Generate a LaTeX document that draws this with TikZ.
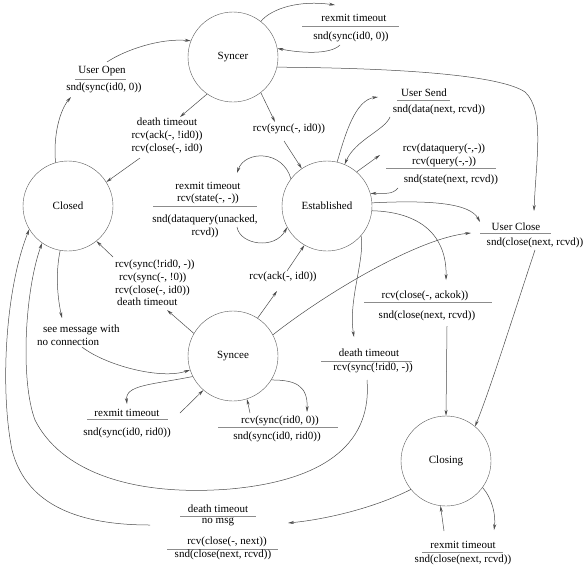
\documentclass[tikz,border=0pt]{standalone}
\usepackage{fontspec}
\setmainfont{Liberation Serif}
\newfontfamily\figfont{Liberation Serif}
\usetikzlibrary{arrows.meta}

\begin{document}
\begin{tikzpicture}[x=1pt, y=-1pt,
    state/.style={draw=black!65, circle, minimum size=90pt, inner sep=0pt, font=\figfont\fontsize{11}{12.8}\selectfont},
    lbl/.style={inner sep=1pt, font=\figfont\fontsize{11}{12.8}\selectfont},
    bar/.style={draw=black!45, line width=0.5pt},
    trans/.style={draw=black!70, line width=0.5pt, -{Stealth[length=6pt, width=3pt]}}]

    \useasboundingbox (0,0) rectangle (583,565);

% states
    \node[state] (syncer)      at (233,57)  {Syncer};
    \node[state] (closed)      at (68,206)  {Closed};
    \node[state] (established) at (327,206) {Established};
    \node[state] (syncee)      at (233,356) {Syncee};
    \node[state] (closing)     at (446,461) {Closing};

% labels round syncer
    \node[lbl] (syncerRex)    at (354,18) {rexmit timeout};
    \draw[bar] (302,26) -- (399,26);
    \node[lbl] (syncerRexSnd) at (351,37) {snd(sync(id0, 0))};
    \node[lbl] (userOpen)     at (102,71) {User Open};
    \draw[bar] (75,79) -- (126,79);
    \node[lbl] (userOpenSnd)  at (104,88) {snd(sync(id0, 0))};
    \node[lbl, align=center] (syncerDeath) at (167,136)
        {death timeout\\rcv(ack(-, !id0))\\rcv(close(-, id0)};
    \node[lbl] (rcvSync)      at (289,129) {rcv(sync(-, id0))};

% labels round established
    \node[lbl] (userSend)     at (424,93)  {User Send};
    \draw[bar] (397,100) -- (450,100);
    \node[lbl] (userSendSnd)  at (439,110) {snd(data(next, rcvd))};
    \node[lbl, align=center] (query) at (444,155)
        {rcv(dataquery(-,-))\\rcv(query(-,-))};
    \draw[bar] (386,168) -- (496,168);
    \node[lbl] (querySnd)     at (451,180) {snd(state(next, rcvd))};
    \node[lbl, align=center] (estRex) at (208,193)
        {rexmit timeout\\rcv(state(-, -))};
    \draw[bar] (153,206) -- (257,206);
    \node[lbl, align=center] (estRexSnd) at (205,226)
        {snd(dataquery(unacked,\\rcvd))};
    \node[lbl] (userClose)    at (516,227) {User Close};
    \draw[bar] (480,233) -- (551,233);
    \node[lbl] (userCloseSnd) at (535,243) {snd(close(next, rcvd))};
    \node[lbl] (ackok)        at (425,296) {rcv(close(-, ackok))};
    \draw[bar] (364,302) -- (492,302);
    \node[lbl] (ackokSnd)     at (427,316) {snd(close(next, rcvd))};
    \node[lbl] (estDeath)     at (369,353) {death timeout};
    \draw[bar] (321,361) -- (412,361);
    \node[lbl] (estDeathRcv)  at (373,368) {rcv(sync(!rid0, -))};

% labels round syncee
    \node[lbl, align=left, anchor=west] (sToC) at (114,283)
        {rcv(sync(!rid0, -))\\\hspace*{4pt}rcv(sync(-, !0))\\rcv(close(-, id0))\\\hspace*{2pt}death timeout};
    \node[lbl] (ack)          at (283,277) {rcv(ack(-, id0))};
    \node[lbl, align=left, anchor=west] (seeMsg) at (36,335)
        {\hspace*{6pt}see message with\\no connection};
    \node[lbl] (synceeRex)    at (127,413) {rexmit timeout};
    \draw[bar] (87,419) -- (168,419);
    \node[lbl] (synceeRexSnd) at (127,433) {snd(sync(id0, rid0))};
    \node[lbl] (synceeRcv)    at (280,421) {rcv(sync(rid0, 0))};
    \draw[bar] (218,427) -- (338,427);
    \node[lbl] (synceeRcvSnd) at (277,437) {snd(sync(id0, rid0))};

% labels round closing
    \node[lbl] (closingDeath) at (218,509) {death timeout};
    \draw[bar] (180,516) -- (256,516);
    \node[lbl] (noMsg)        at (218,522) {no msg};
    \node[lbl] (rcvCloseNext) at (227,542) {rcv(close(-, next))};
    \draw[bar] (167,549) -- (278,549);
    \node[lbl] (sndCloseNext) at (223,555) {snd(close(next, rcvd))};
    \node[lbl] (closingRex)   at (463,545) {rexmit timeout};
    \draw[bar] (422,552) -- (503,552);
    \node[lbl] (closingRexSnd) at (463,560) {snd(close(next, rcvd))};

% transitions from syncer
    \draw[trans] (syncer.52) .. controls (272,8) and (300,0) .. ([shift={(-19,-13)}]syncerRex.center);
    \draw[trans] ([shift={(-11,8)}]syncerRexSnd.center) .. controls (330,55) and (300,53) .. (syncer.11);
    \draw[trans] (syncer.235) -- ([shift={(13,-19)}]syncerDeath.center);
    \draw[trans] ([shift={(-27,22)}]syncerDeath.center) -- (closed.32);
    \draw[trans] (syncer.308) -- ([shift={(-14,-7)}]rcvSync.center);
    \draw[trans] ([shift={(-5,12)}]rcvSync.center) -- (established.124);
    \draw[trans] (syncer.347) .. controls (400,68) and (500,75) .. (525,92)
        .. controls (545,110) and (536,160) .. ([shift={(18,-16)}]userClose.center);

% transitions from closed
    \draw[trans] (closed.106) .. controls (53,135) and (60,110) .. ([shift={(-33,9)}]userOpenSnd.center);
    \draw[trans] ([shift={(5,-9)}]userOpen.center) .. controls (125,50) and (160,38) .. (syncer.159);
    \draw[trans] (closed.260) .. controls (55,275) and (58,300) .. ([shift={(26,-17)}]seeMsg.west);
    \draw[trans] ([shift={(46,12)}]seeMsg.west) .. controls (105,365) and (160,380) .. (syncee.198);

% transitions from established
    \draw[trans] (established.143) .. controls (283,150) and (245,150) .. ([shift={(29,-20)}]estRex.center);
    \draw[trans] ([shift={(32,1)}]estRexSnd.center) .. controls (240,245) and (275,250) .. (established.208);
    \draw[trans] (established.77) .. controls (345,135) and (355,100) .. ([shift={(-46,4)}]userSend.center);
    \draw[trans] ([shift={(-49,7)}]userSendSnd.center) .. controls (385,130) and (355,140) .. (established.67);
    \draw[trans] (established.49) -- ([shift={(-64,0)}]query.center);
    \draw[trans] ([shift={(-53,8)}]querySnd.center) .. controls (392,195) and (385,193) .. (established.16);
    \draw[trans] (established.4) .. controls (430,200) and (470,203) .. ([shift={(-36,-5)}]userClose.center);
    \draw[trans] (established.354) .. controls (420,212) and (447,235) .. ([shift={(21,-16)}]ackok.center);
    \draw[trans] ([shift={(20,10)}]ackokSnd.center) -- (closing.90);
    \draw[trans] (established.319) .. controls (365,260) and (348,300) .. ([shift={(-15,-16)}]estDeath.center);
    \draw[trans] ([shift={(-6,12)}]estDeathRcv.center) .. controls (372,440) and (330,480) .. (230,489)
        .. controls (130,497) and (60,470) .. (35,420)
        .. controls (20,380) and (25,290) .. (closed.235);
    \draw[trans] ([shift={(0,7)}]userCloseSnd.center) .. controls (515,310) and (490,390) .. (closing.50);

% transitions from syncee
    \draw[trans] (syncee.150) -- ([shift={(53,27)}]sToC.west);
    \draw[trans] ([shift={(-1,-26)}]sToC.west) -- (closed.309);
    \draw[trans] (syncee.57) -- ([shift={(-6,14)}]ack.center);
    \draw[trans] ([shift={(4,-6)}]ack.center) -- (established.240);
    \draw[trans] (syncee.28) .. controls (330,290) and (420,238) .. ([shift={(-45,6)}]userClose.center);
    \draw[trans] (syncee.207) .. controls (150,385) and (125,385) .. ([shift={(0,-9)}]synceeRex.center);
    \draw[trans] ([shift={(53,0)}]synceeRex.center) -- (syncee.229);
    \draw[trans] (syncee.328) .. controls (295,380) and (308,385) .. ([shift={(27,-9)}]synceeRcv.center);
    \draw[trans] ([shift={(-30,-8)}]synceeRcv.center) -- (syncee.288);

% transitions from closing
    \draw[trans] (closing.219) .. controls (370,510) and (320,520) .. ([shift={(70,1)}]noMsg.center);
    \draw[trans] ([shift={(-68,3)}]noMsg.center) .. controls (70,525) and (25,500) .. (12,450)
        .. controls (0,390) and (5,290) .. (closed.211);
    \draw[trans] (closing.324) .. controls (492,498) and (496,515) .. ([shift={(31,-15)}]closingRex.center);
    \draw[trans] ([shift={(-19,-14)}]closingRex.center) -- (closing.263);

\end{tikzpicture}
\end{document}
